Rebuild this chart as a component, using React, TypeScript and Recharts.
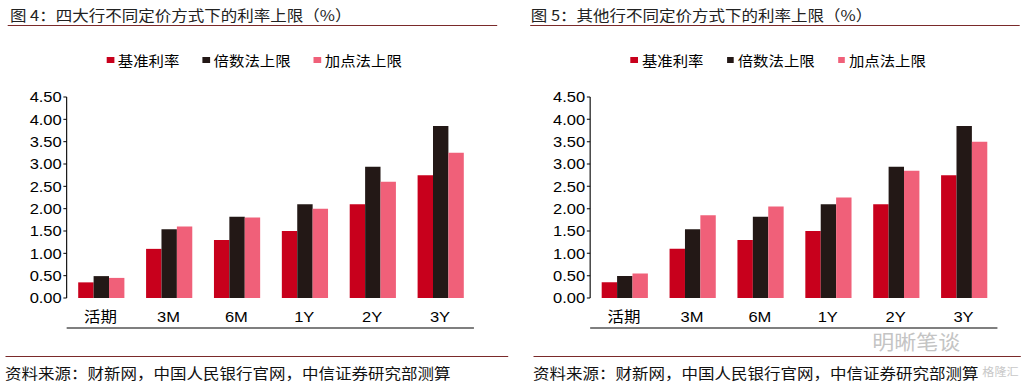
import { BarChart, Bar, XAxis, YAxis, Legend } from 'recharts'

const categories = ['活期', '3M', '6M', '1Y', '2Y', '3Y']
const baseRate = [0.35, 1.1, 1.3, 1.5, 2.1, 2.75]
const bigFourMultipleCap = [0.49, 1.54, 1.82, 2.1, 2.94, 3.85]
const bigFourSpreadCap = [0.45, 1.6, 1.8, 2.0, 2.6, 3.25]
const otherMultipleCap = [0.49, 1.54, 1.82, 2.1, 2.94, 3.85]
const otherSpreadCap = [0.55, 1.85, 2.05, 2.25, 2.85, 3.5]
const yTicks = [0, 0.5, 1, 1.5, 2, 2.5, 3, 3.5, 4, 4.5]
const edgeTicks = [0, 1, 2, 3, 4, 5, 6]

const seriesNames = ['基准利率', '倍数法上限', '加点法上限']
const colors = ['#c8001c', '#231816', '#f06079']

// the reference image is stretched sideways, so everything is drawn narrower and scaled back out
const STRETCH = 1.1
const BASE_W = 1024 / STRETCH

const cjk = "'Noto Sans CJK SC', 'Liberation Sans', sans-serif"
const latin = "'Liberation Sans', 'Noto Sans CJK SC', sans-serif"

// recharts sorts legend items by name, so keep the series order by hand
function LegendRow() {
  return (
    <div style={{ display: 'flex', fontFamily: cjk, fontSize: 14, color: '#000', lineHeight: '20px' }}>
      {seriesNames.map((name, i) => (
        <div key={name} style={{ display: 'flex', alignItems: 'center', marginRight: i < 2 ? 21 : 0 }}>
          <span style={{ width: 6.5, height: 6.5, background: colors[i], marginRight: 3.6, display: 'inline-block' }} />
          <span>{name}</span>
        </div>
      ))}
    </div>
  )
}

interface PanelProps {
  multiple: number[]
  spread: number[]
  marginLeft: number
  marginRight: number
  legendLeft: number
}

function RatePanel({ multiple, spread, marginLeft, marginRight, legendLeft }: PanelProps) {
  const data = categories.map((c, i) => ({
    name: c,
    base: baseRate[i],
    multiple: multiple[i],
    spread: spread[i],
  }))

  return (
    <BarChart
      width={BASE_W / 2}
      height={340}
      data={data}
      margin={{ top: 97, right: marginRight, bottom: 6, left: marginLeft }}
      barCategoryGap="17%"
      barGap={0}
    >
      <XAxis
        xAxisId="edge"
        type="number"
        domain={[0, 6]}
        ticks={edgeTicks}
        tick={false}
        height={6}
        tickSize={5}
        allowDataOverflow
        axisLine={{ stroke: '#000' }}
        tickLine={{ stroke: '#000' }}
      />
      <XAxis
        xAxisId="cat"
        dataKey="name"
        height={30}
        axisLine={false}
        tickLine={false}
        tickMargin={7}
        interval={0}
        tick={{ fontSize: 15, fill: '#000', fontFamily: latin }}
      />
      <YAxis
        domain={[0, 4.5]}
        ticks={yTicks}
        width={50}
        tickSize={3}
        tickMargin={1.5}
        interval={0}
        axisLine={{ stroke: '#000' }}
        tickLine={{ stroke: '#000' }}
        tick={{ fontSize: 15, fill: '#000', fontFamily: latin }}
        tickFormatter={(v) => Number(v).toFixed(2)}
      />
      <Legend
        layout="horizontal"
        verticalAlign="middle"
        align="center"
        wrapperStyle={{ top: 50, left: legendLeft, width: 300, height: 20 }}
        content={<LegendRow />}
      />
      <Bar xAxisId="cat" dataKey="base" name={seriesNames[0]} fill={colors[0]} isAnimationActive={false} />
      <Bar xAxisId="cat" dataKey="multiple" name={seriesNames[1]} fill={colors[1]} isAnimationActive={false} />
      <Bar xAxisId="cat" dataKey="spread" name={seriesNames[2]} fill={colors[2]} isAnimationActive={false} />
    </BarChart>
  )
}

const rule = '#7a2a2a'

export default function App() {
  const half = BASE_W / 2
  return (
    <div
      style={{
        position: 'absolute',
        left: 0,
        top: 0,
        width: BASE_W,
        height: 382,
        background: '#fff',
        transform: `scaleX(${STRETCH})`,
        transformOrigin: '0 0',
        overflow: 'hidden',
      }}
    >
      <div style={{ position: 'absolute', left: 9, top: 6, fontFamily: cjk, fontSize: 15, lineHeight: '18px', color: '#222', whiteSpace: 'nowrap' }}>
        图 4：四大行不同定价方式下的利率上限（%）
      </div>
      <div style={{ position: 'absolute', left: 7.3, top: 24.5, width: 444.5, height: 1.3, background: rule }} />
      <div style={{ position: 'absolute', left: 482.5, top: 6, fontFamily: cjk, fontSize: 15, lineHeight: '18px', color: '#222', whiteSpace: 'nowrap' }}>
        图 5：其他行不同定价方式下的利率上限（%）
      </div>
      <div style={{ position: 'absolute', left: 481.8, top: 24.5, width: 445.5, height: 1.3, background: rule }} />

      <div style={{ position: 'absolute', left: 0, top: 0 }}>
        <RatePanel
          multiple={bigFourMultipleCap}
          spread={bigFourSpreadCap}
          marginLeft={10.6}
          marginRight={34.6}
          legendLeft={97}
        />
      </div>
      <div style={{ position: 'absolute', left: half, top: 0 }}>
        <RatePanel
          multiple={otherMultipleCap}
          spread={otherSpreadCap}
          marginLeft={21.5}
          marginRight={23.7}
          legendLeft={108}
        />
      </div>

      <div style={{ position: 'absolute', left: 793, top: 332, fontFamily: cjk, fontSize: 20, lineHeight: '20px', color: '#c4c4c4', whiteSpace: 'nowrap' }}>
        明晰笔谈
      </div>

      <div style={{ position: 'absolute', left: 4.5, top: 355.5, width: 457, height: 1.3, background: rule }} />
      <div style={{ position: 'absolute', left: 484.5, top: 355.5, width: 443, height: 1.3, background: rule }} />
      <div style={{ position: 'absolute', left: 4.5, top: 364, fontFamily: cjk, fontSize: 15, lineHeight: '18px', color: '#111', whiteSpace: 'nowrap' }}>
        资料来源：财新网，中国人民银行官网，中信证券研究部测算
      </div>
      <div style={{ position: 'absolute', left: 484.5, top: 364, fontFamily: cjk, fontSize: 15, lineHeight: '18px', color: '#111', whiteSpace: 'nowrap' }}>
        资料来源：财新网，中国人民银行官网，中信证券研究部测算
      </div>
      <div style={{ position: 'absolute', left: 893, top: 363, fontFamily: cjk, fontSize: 11, lineHeight: '16px', color: '#c8c8c8', whiteSpace: 'nowrap' }}>
        格隆汇
      </div>
    </div>
  )
}
